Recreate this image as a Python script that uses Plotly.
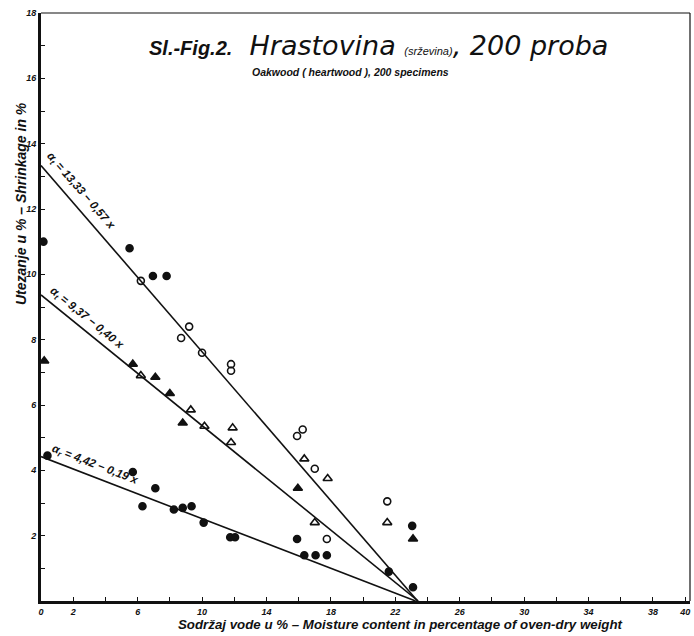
import math
import plotly.graph_objects as go

# Regression lines of shrinkage vs. moisture content: y = intercept + slope * x
eq_labels = ["α<sub>t</sub> = 13,33 − 0,57 x", "α<sub>t</sub> = 9,37 − 0,40 x", "α<sub>r</sub> = 4,42 − 0,19 x"]
intercepts = [13.33, 9.37, 4.42]
slopes = [-0.57, -0.40, -0.19]
# where each label sits (data coordinates)
label_x = [2.45, 2.8, 3.35]
label_y = [12.55, 8.65, 4.15]

# Measured specimens (moisture %, shrinkage %)
filled_circle_x = [0.15, 5.5, 6.95, 7.8, 0.4, 5.7, 7.1, 6.3, 8.25, 8.8, 9.35, 10.1,
                   11.75, 12.05, 15.9, 16.35, 17.05, 17.75, 21.6, 23.05, 23.1]
filled_circle_y = [11.0, 10.8, 9.95, 9.95, 4.45, 3.95, 3.45, 2.9, 2.8, 2.85, 2.9, 2.4,
                   1.95, 1.95, 1.9, 1.4, 1.4, 1.4, 0.9, 2.3, 0.42]

open_circle_x = [6.2, 8.7, 9.2, 10.0, 11.8, 11.8, 15.9, 16.25, 17.0, 17.75, 21.5]
open_circle_y = [9.8, 8.05, 8.4, 7.6, 7.25, 7.05, 5.05, 5.25, 4.05, 1.9, 3.05]

filled_tri_x = [0.2, 5.7, 7.1, 8.0, 8.8, 15.95, 23.1]
filled_tri_y = [7.35, 7.25, 6.85, 6.35, 5.45, 3.45, 1.9]

open_tri_x = [6.2, 9.3, 10.15, 11.9, 11.8, 16.35, 17.8, 17.0, 21.5]
open_tri_y = [6.9, 5.85, 5.35, 5.3, 4.85, 4.35, 3.75, 2.4, 2.4]

x_tick_vals = list(range(0, 41, 2))
x_tick_shown = [0, 2, 6, 10, 14, 18, 22, 26, 30, 34, 38, 40]
y_tick_vals = list(range(1, 19))
y_tick_shown = [2, 4, 6, 8, 10, 12, 14, 16, 18]

X_MAX = 40.3
Y_MAX = 18.0
W, H = 694, 636
M_L, M_R, M_T, M_B = 41, 4, 13, 35
plot_w = W - M_L - M_R
plot_h = H - M_T - M_B

INK = "#111111"
HAND = "Liberation Sans"


def px_to_paper(px, py):
    """Figure pixel position -> paper coordinates of the plot area."""
    return (px - M_L) / plot_w, (H - M_B - py) / plot_h


fig = go.Figure()

# regression lines, each drawn from x = 0 to where it reaches zero shrinkage
for a, b in zip(intercepts, slopes):
    x_end = -a / b
    fig.add_trace(go.Scatter(x=[0, x_end], y=[a, 0], mode="lines",
                             line=dict(color=INK, width=1.6), hoverinfo="skip",
                             showlegend=False))

marker_sets = [
    (filled_circle_x, filled_circle_y, "circle", 7),
    (open_circle_x, open_circle_y, "circle-open", 7),
    (filled_tri_x, filled_tri_y, "triangle-up", 8),
    (open_tri_x, open_tri_y, "triangle-up-open", 8),
]
for xs, ys, sym, size in marker_sets:
    fig.add_trace(go.Scatter(x=xs, y=ys, mode="markers",
                             marker=dict(symbol=sym, size=size, color=INK,
                                         line=dict(color=INK, width=1.6)),
                             showlegend=False))

# equation labels rotated along their lines
ppu_x = plot_w / X_MAX
ppu_y = plot_h / Y_MAX
annotations = []
for text, b, lx, ly in zip(eq_labels, slopes, label_x, label_y):
    ang = math.degrees(math.atan(-b * ppu_y / ppu_x))
    annotations.append(dict(x=lx, y=ly, xref="x", yref="y", text=text,
                            showarrow=False, textangle=ang,
                            font=dict(family=HAND, size=11.5, color=INK,
                                      style="italic", weight="bold")))

# title block
annotations.append(dict(
    x=6.6, y=17.0, xref="x", yref="y", xanchor="left", yanchor="middle",
    showarrow=False,
    text=("<span style='font-family:Liberation Sans;font-size:20px'><b>Sl.-Fig.2.</b></span>"
          "  Hrastovina "
          "<span style='font-family:Liberation Sans;font-size:11px'>(srževina)</span>, 200 proba"),
    font=dict(family="DejaVu Sans", size=27, color=INK, style="italic", weight=200)))
annotations.append(dict(
    x=13.0, y=16.2, xref="x", yref="y", xanchor="left", yanchor="middle",
    showarrow=False,
    text="Oakwood ( heartwood ), 200 specimens",
    font=dict(family=HAND, size=10.5, color=INK, style="italic", weight="bold")))

# axis titles
ax, ay = px_to_paper(21, 204)
annotations.append(dict(
    x=ax, y=ay, xref="paper", yref="paper", xanchor="center", yanchor="middle",
    showarrow=False,
    text="Utezanje u % – Shrinkage in %", textangle=-90,
    font=dict(family=HAND, size=14, color=INK, style="italic", weight="bold")))
bx, by = px_to_paper(400, 624)
annotations.append(dict(
    x=bx, y=by, xref="paper", yref="paper", xanchor="center", yanchor="middle",
    showarrow=False,
    text="Sodržaj vode u % – Moisture content in percentage of oven-dry weight",
    font=dict(family=HAND, size=13.3, color=INK, style="italic", weight="bold")))

# thin frame on the top and right edges
shapes = [
    dict(type="line", xref="paper", yref="paper", x0=0, x1=1, y0=1, y1=1,
         line=dict(color=INK, width=1.2)),
    dict(type="line", xref="paper", yref="paper", x0=1, x1=1, y0=0, y1=1,
         line=dict(color=INK, width=1.2)),
]

tick_font = dict(family=HAND, size=9, color=INK, style="italic", weight="bold")

fig.update_layout(
    width=W, height=H,
    margin=dict(l=M_L, r=M_R, t=M_T, b=M_B, autoexpand=False),
    paper_bgcolor="white", plot_bgcolor="white",
    showlegend=False,
    annotations=annotations, shapes=shapes,
    xaxis=dict(range=[0, X_MAX], showgrid=False, zeroline=False,
               showline=True, linecolor=INK, linewidth=2.5,
               ticks="inside", ticklen=4, tickwidth=1.2, tickcolor=INK,
               tickvals=x_tick_vals,
               ticktext=[str(v) if v in x_tick_shown else "" for v in x_tick_vals],
               tickfont=tick_font),
    yaxis=dict(range=[0, Y_MAX], showgrid=False, zeroline=False,
               showline=True, linecolor=INK, linewidth=3,
               ticks="inside", ticklen=4, tickwidth=1.2, tickcolor=INK,
               tickvals=y_tick_vals,
               ticktext=[str(v) if v in y_tick_shown else "" for v in y_tick_vals],
               tickfont=tick_font),
)

fig.write_html("out.html")
